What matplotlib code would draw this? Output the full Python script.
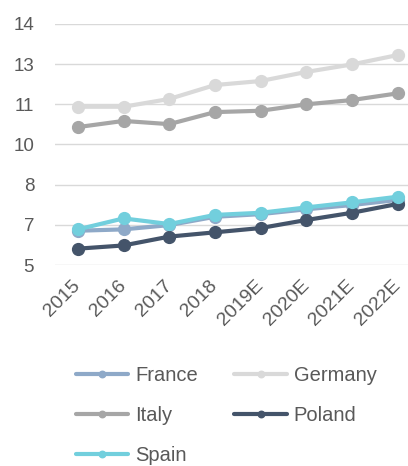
import matplotlib
matplotlib.use("Agg")
import matplotlib.pyplot as plt

years = ["2015", "2016", "2017", "2018", "2019E", "2020E", "2021E", "2022E"]
france = [6.28, 6.33, 6.49, 6.80, 6.90, 7.08, 7.24, 7.43]
germany = [10.91, 10.91, 11.20, 11.72, 11.87, 12.21, 12.49, 12.84]
italy = [10.15, 10.38, 10.26, 10.71, 10.76, 11.00, 11.16, 11.41]
poland = [5.61, 5.73, 6.06, 6.22, 6.38, 6.68, 6.95, 7.28]
spain = [6.33, 6.74, 6.53, 6.87, 6.95, 7.15, 7.34, 7.55]

series = [
    ("France", france, "#8EA9C8"),
    ("Germany", germany, "#D9D9D9"),
    ("Italy", italy, "#A6A6A6"),
    ("Poland", poland, "#44546A"),
    ("Spain", spain, "#72CFDD"),
]

yticks = [5, 6.5, 8, 9.5, 11, 12.5, 14]
ylabels = ["5", "7", "8", "10", "11", "13", "14"]

plt.rcParams["font.family"] = ["Liberation Sans", "DejaVu Sans"]
text_color = "#595959"

fig = plt.figure(figsize=(4.08, 4.66), dpi=100)
ax = fig.add_axes([55 / 408, 201 / 466, (420.5 - 55) / 408, (265 - 24) / 466])

x = list(range(len(years)))
lines = {}
for name, vals, color in series:
    (ln,) = ax.plot(x, vals, color=color, lw=3.0, marker="o", markersize=8.5,
                    solid_capstyle="round", label=name)
    lines[name] = ln

ax.set_xlim(-0.5, len(years) - 0.5)
ax.set_ylim(5, 14)
ax.set_yticks(yticks)
ax.set_yticklabels(ylabels)
ax.set_xticks(x)
ax.set_xticklabels(years, rotation=45, ha="right", va="center",
                   rotation_mode="anchor")

ax.grid(axis="y", color="#D9D9D9", lw=1.0)
ax.set_axisbelow(True)
for s in ax.spines.values():
    s.set_visible(False)
ax.tick_params(axis="y", length=0, labelsize=13.5, labelcolor=text_color, pad=15)
ax.tick_params(axis="x", length=0, labelsize=14, labelcolor=text_color, pad=13)

# legend filled row by row: France, Germany / Italy, Poland / Spain
order = ["France", "Italy", "Spain", "Germany", "Poland"]
leg = fig.legend([lines[n] for n in order], order, ncol=2, loc="upper left",
                 bbox_to_anchor=(76 / 408, 1 - 366 / 466), frameon=False,
                 borderpad=0, borderaxespad=0,
                 fontsize=14.5, handlelength=2.6, handletextpad=0.35,
                 columnspacing=1.8, labelspacing=1.05, markerscale=0.55)
for t in leg.get_texts():
    t.set_color(text_color)

fig.savefig("out.png", dpi=100)
